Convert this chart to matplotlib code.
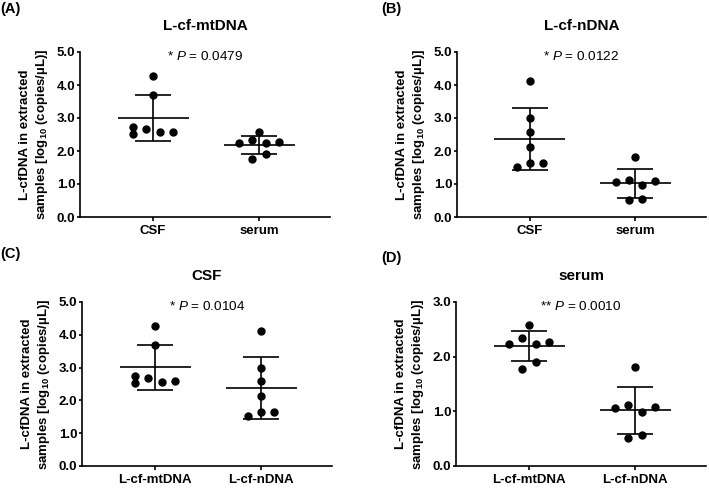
"""Four-panel scatter plots of L-cfDNA levels (mean +/- SD)."""

import numpy as np
import matplotlib
matplotlib.use("Agg")
import matplotlib.pyplot as plt  # noqa: E402
from matplotlib.ticker import FormatStrFormatter  # noqa: E402

plt.rcParams["font.family"] = ["Liberation Sans", "DejaVu Sans"]
plt.rcParams["mathtext.fontset"] = "custom"
plt.rcParams["mathtext.rm"] = "Liberation Sans"
plt.rcParams["mathtext.it"] = "Liberation Sans:italic"
plt.rcParams["mathtext.bf"] = "Liberation Sans:bold"

# values, log10(copies/uL)
mt_csf = [4.28, 3.69, 2.74, 2.52, 2.67, 2.57, 2.59]
mt_serum = [2.58, 2.24, 2.34, 2.24, 2.27, 1.77, 1.90]
n_csf = [4.12, 2.99, 2.58, 2.13, 1.51, 1.64, 1.64]
n_serum = [1.81, 1.06, 1.12, 0.98, 1.08, 0.52, 0.56]

# horizontal spread of the dots, in dot steps
mt_csf_dx = [0, 0, -1.5, -1.5, -0.5, 0.5, 1.5]
mt_serum_dx = [0, -1.5, -0.5, 0.5, 1.5, -0.5, 0.5]
n_csf_dx = [0, 0, 0, 0, -1, 0, 1]
n_serum_dx = [0, -1.5, -0.5, 0.5, 1.5, -0.5, 0.5]

panels = [
    ("(A)", "L-cf-mtDNA", ["CSF", "serum"], [(mt_csf, mt_csf_dx), (mt_serum, mt_serum_dx)],
     "* $P$ = 0.0479", 5.0),
    ("(B)", "L-cf-nDNA", ["CSF", "serum"], [(n_csf, n_csf_dx), (n_serum, n_serum_dx)],
     "* $P$ = 0.0122", 5.0),
    ("(C)", "CSF", ["L-cf-mtDNA", "L-cf-nDNA"], [(mt_csf, mt_csf_dx), (n_csf, n_csf_dx)],
     "* $P$ = 0.0104", 5.0),
    ("(D)", "serum", ["L-cf-mtDNA", "L-cf-nDNA"], [(mt_serum, mt_serum_dx), (n_serum, n_serum_dx)],
     "** $P$ = 0.0010", 3.0),
]

W, H = 709, 488
# axes rectangles in pixels: left, bottom, width, height
rects = [(80, 271, 250, 165), (457, 271, 249, 165),
         (82, 22, 250, 164), (456, 22, 250, 164)]
label_xy = [(0, 486), (381, 486), (0, 241), (381, 237)]

YLABEL = "L-cfDNA in extracted\nsamples [log$_{\\mathbf{10}}$ (copies/\u00b5L)]"
STEP = 0.125
LW = 1.2

fig = plt.figure(figsize=(W / 100, H / 100), dpi=100)

for (tag, title, cats, groups, ptext, ymax), rect, lxy in zip(panels, rects, label_xy):
    l, b, w, h = rect
    ax = fig.add_axes([l / W, b / H, w / W, h / H])

    for i, (vals, dx) in enumerate(groups):
        vals = np.array(vals)
        m = vals.mean()
        sd = vals.std(ddof=1)
        ax.hlines(m, i - 0.335, i + 0.335, color="black", lw=LW, zorder=2)
        ax.hlines([m - sd, m + sd], i - 0.17, i + 0.17, color="black", lw=LW, zorder=2)
        ax.vlines(i, m - sd, m + sd, color="black", lw=LW, zorder=2)
        ax.plot(i + np.array(dx) * STEP, vals, "o", color="black", ms=5, zorder=3)

    ax.set_xlim(-0.69, 1.67)
    ax.set_ylim(0, ymax)
    ax.set_xticks([0, 1])
    ax.set_xticklabels(cats, fontweight="bold", fontsize=9.5)
    ax.set_yticks(np.arange(0, ymax + 0.01, 1.0))
    ax.yaxis.set_major_formatter(FormatStrFormatter("%.1f"))
    for t in ax.get_yticklabels():
        t.set_fontweight("bold")
        t.set_fontsize(9.5)
    ax.tick_params(axis="y", length=2.5, width=LW, pad=1)
    ax.tick_params(axis="x", length=3, width=LW, pad=3)

    for s in ("top", "right"):
        ax.spines[s].set_visible(False)
    for s in ("bottom", "left"):
        ax.spines[s].set_linewidth(LW)

    ax.set_title(title, fontweight="bold", fontsize=11, pad=15.5)
    ax.text(0.5, 0.975, ptext, transform=ax.transAxes, ha="center", va="center",
            fontsize=9.7)
    ax.annotate(YLABEL, xy=(0, 0.5), xycoords="axes fraction",
                xytext=(-32.5, 0), textcoords="offset points", rotation=90,
                ha="center", va="center", fontweight="bold", fontsize=9.5,
                linespacing=1.25)

    fig.text(lxy[0] / W, lxy[1] / H, tag, ha="left", va="top",
             fontweight="bold", fontsize=10.5)

fig.savefig("out.png", dpi=100)
